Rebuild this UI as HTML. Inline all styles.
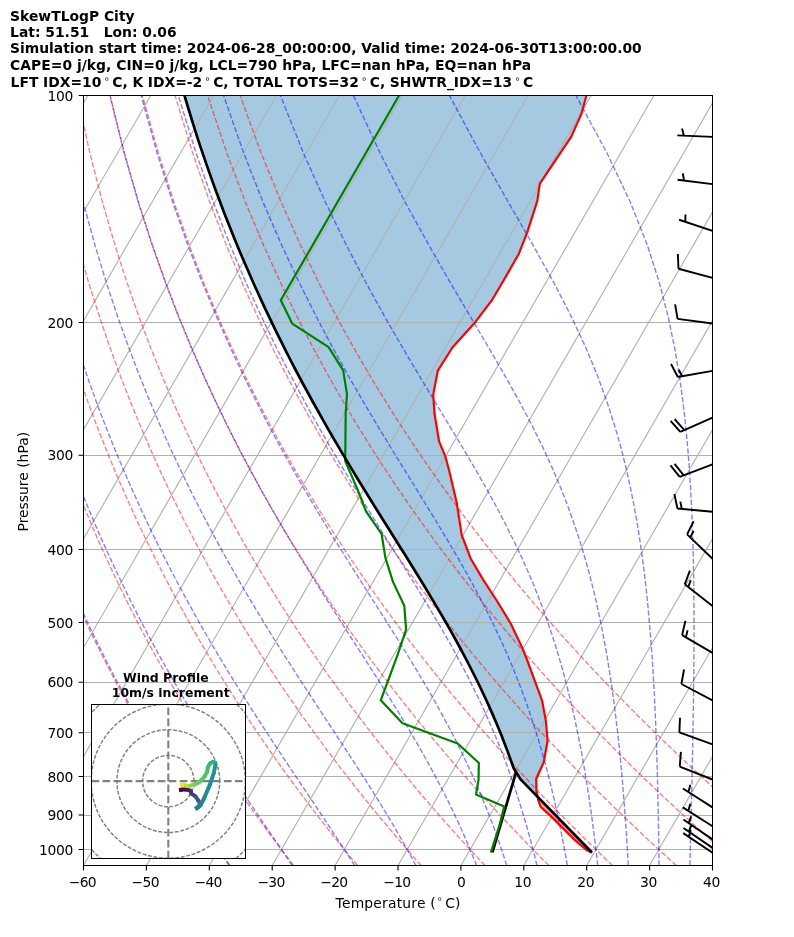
<!DOCTYPE html>
<html><head><meta charset="utf-8"><title>SkewTLogP City</title>
<style>html,body{margin:0;padding:0;background:#fff}svg{display:block}</style></head>
<body>
<svg width="794" height="937" viewBox="0 0 794 937">
<rect width="794" height="937" fill="#fff"/>
<defs><clipPath id="ax"><rect x="83.5" y="95.5" width="629.0" height="770.0"/></clipPath>
<clipPath id="hd"><rect x="91.5" y="704.5" width="154" height="154"/></clipPath></defs>
<g clip-path="url(#ax)" fill="none">
<path d="M536.4 795.4 L520.6 779.4 L516.1 772.2 L513.7 768.2 L510.6 759.6 L507.5 751.1 L504.2 742.6 L500.9 734.1 L497.4 725.6 L493.8 717.1 L490.1 708.6 L486.2 700.0 L482.2 691.5 L478.2 683.0 L473.9 674.5 L469.6 666.0 L465.2 657.5 L460.7 649.0 L456.0 640.4 L451.3 631.9 L446.4 623.4 L441.5 614.9 L436.5 606.4 L431.4 597.9 L426.3 589.4 L421.1 580.8 L415.8 572.3 L410.6 563.8 L405.3 555.3 L399.9 546.8 L394.6 538.3 L389.3 529.7 L383.9 521.2 L378.6 512.7 L373.3 504.2 L368.1 495.7 L362.8 487.2 L357.6 478.7 L352.4 470.1 L347.3 461.6 L342.2 453.1 L337.2 444.6 L332.2 436.1 L327.3 427.6 L322.5 419.1 L317.7 410.5 L312.9 402.0 L308.3 393.5 L303.6 385.0 L299.1 376.5 L294.6 368.0 L290.2 359.5 L285.8 350.9 L281.6 342.4 L277.3 333.9 L273.2 325.4 L269.1 316.9 L265.0 308.4 L261.1 299.9 L257.2 291.3 L253.3 282.8 L249.6 274.3 L245.9 265.8 L242.2 257.3 L238.6 248.8 L235.1 240.2 L231.7 231.7 L228.3 223.2 L224.9 214.7 L221.7 206.2 L218.5 197.7 L215.3 189.2 L212.2 180.6 L209.2 172.1 L206.2 163.6 L203.3 155.1 L200.4 146.6 L197.6 138.1 L194.9 129.6 L192.2 121.0 L189.6 112.5 L187.0 104.0 L184.5 95.5 L586.4 95.5 L581.4 113.9 L571.3 136.6 L539.8 183.7 L537.3 200.8 L527.2 232.3 L518.9 253.7 L503.8 280.0 L491.9 300.2 L474.3 323.3 L452.4 347.5 L437.8 370.7 L433.2 394.6 L434.5 413.5 L439.0 441.2 L445.3 456.3 L449.5 472.0 L456.7 502.7 L461.7 535.0 L470.5 558.2 L483.1 579.6 L497.0 601.0 L510.8 623.7 L522.2 647.6 L527.5 661.0 L534.5 680.2 L542.0 700.3 L545.8 720.5 L547.6 740.6 L543.8 762.0 L536.2 778.8 L536.4 790.5 Z" fill="#1f77b4" fill-opacity="0.4" stroke="none"/>
<path d="M536.4 795.4 L538.4 800.6 L540.7 806.9 L550.3 815.6 L559.1 824.4 L574.1 839.4 L586.4 850.0 L591.7 852.6 L592.0 852.5 Z" fill="#d62728" fill-opacity="0.4" stroke="none"/>
<path d="M-419.7 865.5 L24.9 95.5 M-356.8 865.5 L87.8 95.5 M-293.9 865.5 L150.7 95.5 M-231.0 865.5 L213.6 95.5 M-168.1 865.5 L276.5 95.5 M-105.2 865.5 L339.4 95.5 M-42.3 865.5 L402.3 95.5 M20.6 865.5 L465.2 95.5 M83.5 865.5 L528.1 95.5 M146.4 865.5 L591.0 95.5 M209.3 865.5 L653.9 95.5 M272.2 865.5 L716.8 95.5 M335.1 865.5 L779.7 95.5 M398.0 865.5 L842.6 95.5 M460.9 865.5 L905.5 95.5 M523.8 865.5 L968.4 95.5 M586.7 865.5 L1031.3 95.5 M649.6 865.5 L1094.2 95.5 M712.5 865.5 L1157.1 95.5" stroke="#b0b0b0" stroke-width="1.11"/>
<path d="M83.5 95.5 H712.5 M83.5 322.5 H712.5 M83.5 455.5 H712.5 M83.5 549.5 H712.5 M83.5 622.5 H712.5 M83.5 682.5 H712.5 M83.5 732.5 H712.5 M83.5 776.5 H712.5 M83.5 815.5 H712.5 M83.5 849.5 H712.5" stroke="#b0b0b0" stroke-width="1"/>
<path d="M229.9 865.5 L225.5 859.4 L221.1 853.2 L216.6 846.8 L212.1 840.4 L207.6 833.8 L203.0 827.0 L198.4 820.2 L193.7 813.2 L189.0 806.0 L184.2 798.7 L179.4 791.2 L174.5 783.5 L169.6 775.6 L164.6 767.6 L159.6 759.3 L154.5 750.8 L149.4 742.1 L144.1 733.2 L138.9 724.0 L133.5 714.6 L128.1 704.8 L122.7 694.8 L117.1 684.5 L111.5 673.8 L105.8 662.7 L100.1 651.3 L94.2 639.5 L88.3 627.2 L82.3 614.4 L76.2 601.1 L70.0 587.3 L63.7 572.8 L57.4 557.7 L50.9 541.9 L44.3 525.2 L37.7 507.6 L30.9 489.1 L24.1 469.4 L17.1 448.5 L10.0 426.2 L2.9 402.2 L-4.3 376.3 L-11.6 348.2 L-18.9 317.4 L-26.2 283.5 L-33.4 245.6 L-40.5 202.8 L-47.1 153.5 L-53.1 95.5 M293.7 865.5 L289.0 859.4 L284.2 853.2 L279.4 846.8 L274.5 840.4 L269.6 833.8 L264.7 827.0 L259.7 820.2 L254.7 813.2 L249.6 806.0 L244.4 798.7 L239.2 791.2 L233.9 783.5 L228.6 775.6 L223.2 767.6 L217.7 759.3 L212.2 750.8 L206.6 742.1 L201.0 733.2 L195.3 724.0 L189.5 714.6 L183.6 704.8 L177.6 694.8 L171.6 684.5 L165.5 673.8 L159.3 662.7 L153.0 651.3 L146.6 639.5 L140.1 627.2 L133.5 614.4 L126.8 601.1 L120.0 587.3 L113.1 572.8 L106.1 557.7 L99.0 541.9 L91.7 525.2 L84.4 507.6 L76.8 489.1 L69.2 469.4 L61.4 448.5 L53.5 426.2 L45.5 402.2 L37.3 376.3 L29.0 348.2 L20.6 317.4 L12.2 283.5 L3.7 245.6 L-4.7 202.8 L-12.9 153.5 L-20.5 95.5 M357.5 865.5 L352.4 859.4 L347.3 853.2 L342.1 846.8 L336.9 840.4 L331.7 833.8 L326.4 827.0 L321.0 820.2 L315.6 813.2 L310.1 806.0 L304.6 798.7 L299.0 791.2 L293.3 783.5 L287.6 775.6 L281.8 767.6 L275.9 759.3 L269.9 750.8 L263.9 742.1 L257.8 733.2 L251.6 724.0 L245.4 714.6 L239.0 704.8 L232.6 694.8 L226.1 684.5 L219.4 673.8 L212.7 662.7 L205.9 651.3 L199.0 639.5 L191.9 627.2 L184.8 614.4 L177.5 601.1 L170.1 587.3 L162.6 572.8 L154.9 557.7 L147.1 541.9 L139.1 525.2 L131.0 507.6 L122.8 489.1 L114.3 469.4 L105.8 448.5 L97.0 426.2 L88.0 402.2 L78.9 376.3 L69.6 348.2 L60.2 317.4 L50.5 283.5 L40.8 245.6 L31.1 202.8 L21.4 153.5 L12.1 95.5 M421.2 865.5 L415.8 859.4 L410.4 853.2 L404.9 846.8 L399.3 840.4 L393.7 833.8 L388.1 827.0 L382.3 820.2 L376.5 813.2 L370.7 806.0 L364.7 798.7 L358.7 791.2 L352.7 783.5 L346.5 775.6 L340.3 767.6 L334.0 759.3 L327.6 750.8 L321.2 742.1 L314.6 733.2 L308.0 724.0 L301.3 714.6 L294.5 704.8 L287.5 694.8 L280.5 684.5 L273.4 673.8 L266.2 662.7 L258.8 651.3 L251.3 639.5 L243.7 627.2 L236.0 614.4 L228.1 601.1 L220.1 587.3 L212.0 572.8 L203.7 557.7 L195.2 541.9 L186.5 525.2 L177.7 507.6 L168.7 489.1 L159.5 469.4 L150.1 448.5 L140.5 426.2 L130.6 402.2 L120.5 376.3 L110.2 348.2 L99.7 317.4 L88.9 283.5 L78.0 245.6 L66.8 202.8 L55.7 153.5 L44.7 95.5 M485.0 865.5 L479.3 859.4 L473.5 853.2 L467.7 846.8 L461.7 840.4 L455.8 833.8 L449.7 827.0 L443.6 820.2 L437.5 813.2 L431.2 806.0 L424.9 798.7 L418.5 791.2 L412.0 783.5 L405.5 775.6 L398.9 767.6 L392.2 759.3 L385.4 750.8 L378.5 742.1 L371.5 733.2 L364.4 724.0 L357.2 714.6 L349.9 704.8 L342.5 694.8 L335.0 684.5 L327.3 673.8 L319.6 662.7 L311.7 651.3 L303.7 639.5 L295.5 627.2 L287.2 614.4 L278.8 601.1 L270.2 587.3 L261.4 572.8 L252.4 557.7 L243.3 541.9 L233.9 525.2 L224.4 507.6 L214.6 489.1 L204.6 469.4 L194.4 448.5 L183.9 426.2 L173.2 402.2 L162.2 376.3 L150.8 348.2 L139.2 317.4 L127.3 283.5 L115.1 245.6 L102.6 202.8 L90.0 153.5 L77.2 95.5 M548.8 865.5 L542.7 859.4 L536.6 853.2 L530.4 846.8 L524.1 840.4 L517.8 833.8 L511.4 827.0 L504.9 820.2 L498.4 813.2 L491.8 806.0 L485.1 798.7 L478.3 791.2 L471.4 783.5 L464.5 775.6 L457.4 767.6 L450.3 759.3 L443.1 750.8 L435.7 742.1 L428.3 733.2 L420.8 724.0 L413.1 714.6 L405.3 704.8 L397.5 694.8 L389.4 684.5 L381.3 673.8 L373.0 662.7 L364.6 651.3 L356.1 639.5 L347.3 627.2 L338.5 614.4 L329.4 601.1 L320.2 587.3 L310.8 572.8 L301.2 557.7 L291.4 541.9 L281.3 525.2 L271.1 507.6 L260.6 489.1 L249.8 469.4 L238.7 448.5 L227.4 426.2 L215.8 402.2 L203.8 376.3 L191.5 348.2 L178.8 317.4 L165.7 283.5 L152.2 245.6 L138.4 202.8 L124.2 153.5 L109.8 95.5 M612.6 865.5 L606.2 859.4 L599.7 853.2 L593.2 846.8 L586.5 840.4 L579.9 833.8 L573.1 827.0 L566.3 820.2 L559.3 813.2 L552.3 806.0 L545.2 798.7 L538.1 791.2 L530.8 783.5 L523.4 775.6 L516.0 767.6 L508.4 759.3 L500.8 750.8 L493.0 742.1 L485.1 733.2 L477.1 724.0 L469.0 714.6 L460.8 704.8 L452.4 694.8 L443.9 684.5 L435.3 673.8 L426.5 662.7 L417.5 651.3 L408.4 639.5 L399.1 627.2 L389.7 614.4 L380.1 601.1 L370.2 587.3 L360.2 572.8 L349.9 557.7 L339.5 541.9 L328.7 525.2 L317.7 507.6 L306.5 489.1 L294.9 469.4 L283.1 448.5 L270.9 426.2 L258.3 402.2 L245.4 376.3 L232.1 348.2 L218.3 317.4 L204.1 283.5 L189.4 245.6 L174.2 202.8 L158.5 153.5 L142.4 95.5 M676.4 865.5 L669.6 859.4 L662.8 853.2 L655.9 846.8 L648.9 840.4 L641.9 833.8 L634.8 827.0 L627.6 820.2 L620.3 813.2 L612.9 806.0 L605.4 798.7 L597.8 791.2 L590.2 783.5 L582.4 775.6 L574.5 767.6 L566.6 759.3 L558.5 750.8 L550.3 742.1 L542.0 733.2 L533.5 724.0 L524.9 714.6 L516.2 704.8 L507.4 694.8 L498.4 684.5 L489.2 673.8 L479.9 662.7 L470.4 651.3 L460.8 639.5 L451.0 627.2 L440.9 614.4 L430.7 601.1 L420.3 587.3 L409.6 572.8 L398.7 557.7 L387.5 541.9 L376.1 525.2 L364.4 507.6 L352.4 489.1 L340.1 469.4 L327.4 448.5 L314.4 426.2 L300.9 402.2 L287.0 376.3 L272.7 348.2 L257.9 317.4 L242.5 283.5 L226.5 245.6 L210.0 202.8 L192.8 153.5 L175.0 95.5 M740.2 865.5 L733.1 859.4 L725.9 853.2 L718.7 846.8 L711.3 840.4 L703.9 833.8 L696.5 827.0 L688.9 820.2 L681.2 813.2 L673.4 806.0 L665.6 798.7 L657.6 791.2 L649.6 783.5 L641.4 775.6 L633.1 767.6 L624.7 759.3 L616.2 750.8 L607.6 742.1 L598.8 733.2 L589.9 724.0 L580.8 714.6 L571.7 704.8 L562.3 694.8 L552.8 684.5 L543.2 673.8 L533.4 662.7 L523.4 651.3 L513.2 639.5 L502.8 627.2 L492.2 614.4 L481.3 601.1 L470.3 587.3 L459.0 572.8 L447.5 557.7 L435.6 541.9 L423.5 525.2 L411.1 507.6 L398.3 489.1 L385.2 469.4 L371.7 448.5 L357.8 426.2 L343.5 402.2 L328.7 376.3 L313.3 348.2 L297.4 317.4 L280.9 283.5 L263.7 245.6 L245.7 202.8 L227.0 153.5 L207.6 95.5 M803.9 865.5 L796.5 859.4 L789.0 853.2 L781.4 846.8 L773.7 840.4 L766.0 833.8 L758.1 827.0 L750.2 820.2 L742.1 813.2 L734.0 806.0 L725.8 798.7 L717.4 791.2 L708.9 783.5 L700.4 775.6 L691.7 767.6 L682.8 759.3 L673.9 750.8 L664.8 742.1 L655.6 733.2 L646.3 724.0 L636.8 714.6 L627.1 704.8 L617.3 694.8 L607.3 684.5 L597.1 673.8 L586.8 662.7 L576.3 651.3 L565.5 639.5 L554.6 627.2 L543.4 614.4 L532.0 601.1 L520.3 587.3 L508.4 572.8 L496.2 557.7 L483.7 541.9 L470.9 525.2 L457.8 507.6 L444.3 489.1 L430.4 469.4 L416.1 448.5 L401.3 426.2 L386.1 402.2 L370.3 376.3 L353.9 348.2 L336.9 317.4 L319.2 283.5 L300.8 245.6 L281.5 202.8 L261.3 153.5 L240.1 95.5" stroke="#ff0000" stroke-width="1.39" stroke-dasharray="5.14 2.22" stroke-opacity="0.5"/>
<path d="M229.3 865.5 L225.2 859.4 L221.0 853.2 L216.7 846.8 L212.4 840.4 L208.0 833.8 L203.6 827.0 L199.1 820.2 L194.6 813.2 L189.9 806.0 L185.3 798.7 L180.5 791.2 L175.7 783.5 L170.9 775.6 L165.9 767.6 L161.0 759.3 L155.9 750.8 L150.8 742.1 L145.6 733.2 L140.4 724.0 L135.0 714.6 L129.6 704.8 L124.2 694.8 L118.6 684.5 L113.0 673.8 L107.3 662.7 L101.6 651.3 L95.7 639.5 L89.8 627.2 L83.8 614.4 L77.6 601.1 L71.4 587.3 L65.2 572.8 L58.8 557.7 L52.3 541.9 L45.7 525.2 L39.0 507.6 L32.2 489.1 L25.4 469.4 L18.4 448.5 L11.3 426.2 L4.1 402.2 L-3.1 376.3 L-10.4 348.2 L-17.8 317.4 L-25.1 283.5 L-32.4 245.6 L-39.4 202.8 L-46.1 153.5 L-52.1 95.5 M292.3 865.5 L288.1 859.4 L283.9 853.2 L279.6 846.8 L275.2 840.4 L270.7 833.8 L266.1 827.0 L261.5 820.2 L256.8 813.2 L252.0 806.0 L247.1 798.7 L242.1 791.2 L237.0 783.5 L231.9 775.6 L226.6 767.6 L221.3 759.3 L215.9 750.8 L210.4 742.1 L204.9 733.2 L199.2 724.0 L193.5 714.6 L187.6 704.8 L181.7 694.8 L175.7 684.5 L169.6 673.8 L163.3 662.7 L157.0 651.3 L150.6 639.5 L144.1 627.2 L137.5 614.4 L130.8 601.1 L124.0 587.3 L117.0 572.8 L110.0 557.7 L102.8 541.9 L95.5 525.2 L88.0 507.6 L80.5 489.1 L72.8 469.4 L64.9 448.5 L56.9 426.2 L48.8 402.2 L40.6 376.3 L32.2 348.2 L23.7 317.4 L15.2 283.5 L6.6 245.6 L-1.9 202.8 L-10.2 153.5 L-17.9 95.5 M354.6 865.5 L350.7 859.4 L346.7 853.2 L342.6 846.8 L338.4 840.4 L334.0 833.8 L329.6 827.0 L325.1 820.2 L320.4 813.2 L315.6 806.0 L310.7 798.7 L305.7 791.2 L300.5 783.5 L295.3 775.6 L289.9 767.6 L284.4 759.3 L278.8 750.8 L273.0 742.1 L267.2 733.2 L261.2 724.0 L255.1 714.6 L248.9 704.8 L242.6 694.8 L236.1 684.5 L229.5 673.8 L222.8 662.7 L216.0 651.3 L209.0 639.5 L201.9 627.2 L194.7 614.4 L187.4 601.1 L179.9 587.3 L172.3 572.8 L164.5 557.7 L156.6 541.9 L148.5 525.2 L140.3 507.6 L131.9 489.1 L123.3 469.4 L114.5 448.5 L105.6 426.2 L96.5 402.2 L87.2 376.3 L77.7 348.2 L68.0 317.4 L58.1 283.5 L48.2 245.6 L38.2 202.8 L28.2 153.5 L18.5 95.5 M415.9 865.5 L412.7 859.4 L409.3 853.2 L405.7 846.8 L402.1 840.4 L398.3 833.8 L394.4 827.0 L390.3 820.2 L386.1 813.2 L381.7 806.0 L377.2 798.7 L372.5 791.2 L367.7 783.5 L362.7 775.6 L357.5 767.6 L352.1 759.3 L346.6 750.8 L340.9 742.1 L335.1 733.2 L329.0 724.0 L322.8 714.6 L316.4 704.8 L309.9 694.8 L303.1 684.5 L296.2 673.8 L289.1 662.7 L281.8 651.3 L274.4 639.5 L266.8 627.2 L259.0 614.4 L251.0 601.1 L242.8 587.3 L234.5 572.8 L225.9 557.7 L217.2 541.9 L208.3 525.2 L199.2 507.6 L189.8 489.1 L180.3 469.4 L170.5 448.5 L160.5 426.2 L150.2 402.2 L139.7 376.3 L129.0 348.2 L117.9 317.4 L106.6 283.5 L95.1 245.6 L83.3 202.8 L71.5 153.5 L59.7 95.5 M476.6 865.5 L474.2 859.4 L471.6 853.2 L469.0 846.8 L466.2 840.4 L463.4 833.8 L460.4 827.0 L457.2 820.2 L453.9 813.2 L450.5 806.0 L446.9 798.7 L443.1 791.2 L439.1 783.5 L435.0 775.6 L430.6 767.6 L426.1 759.3 L421.3 750.8 L416.3 742.1 L411.1 733.2 L405.6 724.0 L399.9 714.6 L393.9 704.8 L387.6 694.8 L381.1 684.5 L374.3 673.8 L367.2 662.7 L359.9 651.3 L352.3 639.5 L344.4 627.2 L336.2 614.4 L327.7 601.1 L319.0 587.3 L309.9 572.8 L300.7 557.7 L291.1 541.9 L281.2 525.2 L271.1 507.6 L260.7 489.1 L250.0 469.4 L239.0 448.5 L227.7 426.2 L216.1 402.2 L204.1 376.3 L191.8 348.2 L179.1 317.4 L166.0 283.5 L152.6 245.6 L138.7 202.8 L124.5 153.5 L110.1 95.5 M506.8 865.5 L504.8 859.4 L502.8 853.2 L500.7 846.8 L498.4 840.4 L496.1 833.8 L493.6 827.0 L491.1 820.2 L488.4 813.2 L485.5 806.0 L482.5 798.7 L479.4 791.2 L476.1 783.5 L472.6 775.6 L468.9 767.6 L465.0 759.3 L460.9 750.8 L456.6 742.1 L452.1 733.2 L447.2 724.0 L442.1 714.6 L436.8 704.8 L431.1 694.8 L425.1 684.5 L418.8 673.8 L412.1 662.7 L405.1 651.3 L397.7 639.5 L390.0 627.2 L381.9 614.4 L373.5 601.1 L364.7 587.3 L355.5 572.8 L346.0 557.7 L336.1 541.9 L325.8 525.2 L315.2 507.6 L304.2 489.1 L292.9 469.4 L281.2 448.5 L269.1 426.2 L256.7 402.2 L243.8 376.3 L230.6 348.2 L216.9 317.4 L202.7 283.5 L188.0 245.6 L172.9 202.8 L157.2 153.5 L141.2 95.5 M537.0 865.5 L535.5 859.4 L534.0 853.2 L532.3 846.8 L530.6 840.4 L528.8 833.8 L526.9 827.0 L524.9 820.2 L522.8 813.2 L520.6 806.0 L518.3 798.7 L515.9 791.2 L513.3 783.5 L510.6 775.6 L507.7 767.6 L504.6 759.3 L501.3 750.8 L497.9 742.1 L494.2 733.2 L490.2 724.0 L486.0 714.6 L481.6 704.8 L476.8 694.8 L471.7 684.5 L466.3 673.8 L460.5 662.7 L454.3 651.3 L447.7 639.5 L440.6 627.2 L433.1 614.4 L425.2 601.1 L416.7 587.3 L407.7 572.8 L398.3 557.7 L388.3 541.9 L377.9 525.2 L367.0 507.6 L355.5 489.1 L343.6 469.4 L331.2 448.5 L318.3 426.2 L305.0 402.2 L291.1 376.3 L276.7 348.2 L261.8 317.4 L246.3 283.5 L230.3 245.6 L213.6 202.8 L196.2 153.5 L178.3 95.5 M567.3 865.5 L566.3 859.4 L565.1 853.2 L564.0 846.8 L562.8 840.4 L561.5 833.8 L560.1 827.0 L558.7 820.2 L557.2 813.2 L555.6 806.0 L554.0 798.7 L552.2 791.2 L550.3 783.5 L548.4 775.6 L546.3 767.6 L544.0 759.3 L541.6 750.8 L539.1 742.1 L536.4 733.2 L533.5 724.0 L530.3 714.6 L527.0 704.8 L523.4 694.8 L519.5 684.5 L515.3 673.8 L510.8 662.7 L505.9 651.3 L500.5 639.5 L494.8 627.2 L488.5 614.4 L481.7 601.1 L474.4 587.3 L466.4 572.8 L457.8 557.7 L448.5 541.9 L438.5 525.2 L427.8 507.6 L416.4 489.1 L404.2 469.4 L391.4 448.5 L377.8 426.2 L363.6 402.2 L348.6 376.3 L333.0 348.2 L316.7 317.4 L299.7 283.5 L281.9 245.6 L263.3 202.8 L243.9 153.5 L223.6 95.5 M597.7 865.5 L597.1 859.4 L596.4 853.2 L595.6 846.8 L594.8 840.4 L594.0 833.8 L593.1 827.0 L592.2 820.2 L591.3 813.2 L590.2 806.0 L589.2 798.7 L588.0 791.2 L586.8 783.5 L585.5 775.6 L584.2 767.6 L582.7 759.3 L581.2 750.8 L579.5 742.1 L577.7 733.2 L575.8 724.0 L573.8 714.6 L571.5 704.8 L569.1 694.8 L566.5 684.5 L563.7 673.8 L560.6 662.7 L557.2 651.3 L553.5 639.5 L549.5 627.2 L545.0 614.4 L540.0 601.1 L534.6 587.3 L528.5 572.8 L521.8 557.7 L514.3 541.9 L506.0 525.2 L496.9 507.6 L486.7 489.1 L475.5 469.4 L463.2 448.5 L449.7 426.2 L435.2 402.2 L419.6 376.3 L402.9 348.2 L385.1 317.4 L366.4 283.5 L346.6 245.6 L325.7 202.8 L303.6 153.5 L280.4 95.5 M628.3 865.5 L628.0 859.4 L627.6 853.2 L627.2 846.8 L626.8 840.4 L626.4 833.8 L625.9 827.0 L625.4 820.2 L624.9 813.2 L624.4 806.0 L623.8 798.7 L623.2 791.2 L622.6 783.5 L621.9 775.6 L621.2 767.6 L620.4 759.3 L619.6 750.8 L618.7 742.1 L617.7 733.2 L616.6 724.0 L615.5 714.6 L614.3 704.8 L612.9 694.8 L611.5 684.5 L609.9 673.8 L608.1 662.7 L606.2 651.3 L604.0 639.5 L601.7 627.2 L599.0 614.4 L596.1 601.1 L592.8 587.3 L589.1 572.8 L584.9 557.7 L580.1 541.9 L574.6 525.2 L568.4 507.6 L561.2 489.1 L552.9 469.4 L543.4 448.5 L532.4 426.2 L519.7 402.2 L505.3 376.3 L489.0 348.2 L470.9 317.4 L450.8 283.5 L429.1 245.6 L405.5 202.8 L380.3 153.5 L353.4 95.5 M659.0 865.5 L659.0 859.4 L658.9 853.2 L658.8 846.8 L658.7 840.4 L658.6 833.8 L658.5 827.0 L658.4 820.2 L658.2 813.2 L658.1 806.0 L657.9 798.7 L657.8 791.2 L657.6 783.5 L657.4 775.6 L657.2 767.6 L656.9 759.3 L656.7 750.8 L656.4 742.1 L656.0 733.2 L655.7 724.0 L655.3 714.6 L654.8 704.8 L654.4 694.8 L653.8 684.5 L653.2 673.8 L652.5 662.7 L651.7 651.3 L650.8 639.5 L649.8 627.2 L648.7 614.4 L647.4 601.1 L646.0 587.3 L644.3 572.8 L642.4 557.7 L640.1 541.9 L637.5 525.2 L634.4 507.6 L630.7 489.1 L626.4 469.4 L621.2 448.5 L614.8 426.2 L607.1 402.2 L597.7 376.3 L586.1 348.2 L571.7 317.4 L554.3 283.5 L533.3 245.6 L508.7 202.8 L480.7 153.5 L449.4 95.5 M689.9 865.5 L690.0 859.4 L690.2 853.2 L690.3 846.8 L690.5 840.4 L690.7 833.8 L690.8 827.0 L691.0 820.2 L691.2 813.2 L691.3 806.0 L691.5 798.7 L691.7 791.2 L691.9 783.5 L692.0 775.6 L692.2 767.6 L692.4 759.3 L692.6 750.8 L692.7 742.1 L692.9 733.2 L693.1 724.0 L693.2 714.6 L693.4 704.8 L693.5 694.8 L693.6 684.5 L693.8 673.8 L693.9 662.7 L693.9 651.3 L694.0 639.5 L694.0 627.2 L694.0 614.4 L693.9 601.1 L693.8 587.3 L693.6 572.8 L693.3 557.7 L692.8 541.9 L692.3 525.2 L691.6 507.6 L690.6 489.1 L689.4 469.4 L687.8 448.5 L685.7 426.2 L683.0 402.2 L679.5 376.3 L674.7 348.2 L668.3 317.4 L659.6 283.5 L647.5 245.6 L630.6 202.8 L607.2 153.5 L576.0 95.5 M720.9 865.5 L721.2 859.4 L721.5 853.2 L721.9 846.8 L722.2 840.4 L722.6 833.8 L723.0 827.0 L723.4 820.2 L723.8 813.2 L724.2 806.0 L724.6 798.7 L725.0 791.2 L725.5 783.5 L725.9 775.6 L726.4 767.6 L726.9 759.3 L727.4 750.8 L727.9 742.1 L728.4 733.2 L729.0 724.0 L729.6 714.6 L730.1 704.8 L730.7 694.8 L731.4 684.5 L732.0 673.8 L732.7 662.7 L733.3 651.3 L734.0 639.5 L734.7 627.2 L735.5 614.4 L736.2 601.1 L737.0 587.3 L737.8 572.8 L738.6 557.7 L739.4 541.9 L740.2 525.2 L741.0 507.6 L741.8 489.1 L742.5 469.4 L743.2 448.5 L743.8 426.2 L744.3 402.2 L744.6 376.3 L744.6 348.2 L744.2 317.4 L743.0 283.5 L740.7 245.6 L736.4 202.8 L728.8 153.5 L715.1 95.5" stroke="#0000ff" stroke-width="1.39" stroke-dasharray="5.14 2.22" stroke-opacity="0.5"/>
<path d="M516.1 772.2 L492.4 852.3" stroke="#000" stroke-width="2.7"/>
<path d="M586.4 95.5 L581.4 113.9 L571.3 136.6 L539.8 183.7 L537.3 200.8 L527.2 232.3 L518.9 253.7 L503.8 280.0 L491.9 300.2 L474.3 323.3 L452.4 347.5 L437.8 370.7 L433.2 394.6 L434.5 413.5 L439.0 441.2 L445.3 456.3 L449.5 472.0 L456.7 502.7 L461.7 535.0 L470.5 558.2 L483.1 579.6 L497.0 601.0 L510.8 623.7 L522.2 647.6 L527.5 661.0 L534.5 680.2 L542.0 700.3 L545.8 720.5 L547.6 740.6 L543.8 762.0 L536.2 778.8 L536.4 790.5 L538.4 800.6 L540.7 806.9 L550.3 815.6 L559.1 824.4 L574.1 839.4 L586.4 850.0 L591.7 852.6" stroke="#ff0000" stroke-width="2.2" stroke-linejoin="round"/>
<path d="M399.2 95.3 L280.8 300.3 L292.2 323.6 L328.6 347.2 L343.2 370.4 L347.0 394.3 L345.7 413.2 L345.2 461.0 L358.3 491.3 L366.0 511.3 L381.6 534.0 L385.4 557.9 L393.0 581.9 L404.3 605.8 L406.1 629.7 L398.0 653.7 L389.2 677.6 L380.8 700.2 L402.5 723.3 L457.7 743.5 L478.9 763.0 L478.5 780.0 L476.0 794.5 L504.2 806.6 L499.2 826.2 L490.8 852.7" stroke="#008000" stroke-width="2.2" stroke-linejoin="round"/>
<path d="M592.0 852.5 L520.6 779.4 L516.1 772.2 L513.7 768.2 L510.6 759.6 L507.5 751.1 L504.2 742.6 L500.9 734.1 L497.4 725.6 L493.8 717.1 L490.1 708.6 L486.2 700.0 L482.2 691.5 L478.2 683.0 L473.9 674.5 L469.6 666.0 L465.2 657.5 L460.7 649.0 L456.0 640.4 L451.3 631.9 L446.4 623.4 L441.5 614.9 L436.5 606.4 L431.4 597.9 L426.3 589.4 L421.1 580.8 L415.8 572.3 L410.6 563.8 L405.3 555.3 L399.9 546.8 L394.6 538.3 L389.3 529.7 L383.9 521.2 L378.6 512.7 L373.3 504.2 L368.1 495.7 L362.8 487.2 L357.6 478.7 L352.4 470.1 L347.3 461.6 L342.2 453.1 L337.2 444.6 L332.2 436.1 L327.3 427.6 L322.5 419.1 L317.7 410.5 L312.9 402.0 L308.3 393.5 L303.6 385.0 L299.1 376.5 L294.6 368.0 L290.2 359.5 L285.8 350.9 L281.6 342.4 L277.3 333.9 L273.2 325.4 L269.1 316.9 L265.0 308.4 L261.1 299.9 L257.2 291.3 L253.3 282.8 L249.6 274.3 L245.9 265.8 L242.2 257.3 L238.6 248.8 L235.1 240.2 L231.7 231.7 L228.3 223.2 L224.9 214.7 L221.7 206.2 L218.5 197.7 L215.3 189.2 L212.2 180.6 L209.2 172.1 L206.2 163.6 L203.3 155.1 L200.4 146.6 L197.6 138.1 L194.9 129.6 L192.2 121.0 L189.6 112.5 L187.0 104.0 L184.5 95.5" stroke="#000" stroke-width="2.7" stroke-linejoin="round"/>
</g>
<path d="M712.50 136.90 L677.33 135.40 M683.93 135.68 L682.03 128.56 M712.50 184.10 L677.56 179.80 M684.11 180.60 L682.79 173.35 M712.50 230.80 L679.08 219.76 M685.34 221.83 L685.46 214.45 M712.50 277.80 L678.49 268.74 M678.49 268.74 L677.86 254.00 M712.50 323.50 L677.60 318.90 M677.60 318.90 L675.08 304.37 M712.50 370.90 L677.84 377.04 M677.84 377.04 L671.05 363.94 M682.17 376.27 L678.78 369.73 M712.50 417.60 L680.34 431.91 M680.34 431.91 L670.60 420.83 M684.36 430.12 L674.62 419.04 M712.50 464.30 L679.65 476.94 M679.65 476.94 L670.49 465.37 M683.75 475.36 L674.59 463.79 M712.50 511.70 L677.45 508.46 M677.45 508.46 L674.36 494.03 M681.83 508.86 L680.29 501.65 M712.50 558.80 L687.11 534.42 M687.11 534.42 L693.68 521.22 M690.28 537.47 L693.57 530.87 M712.50 606.00 L684.74 584.35 M684.74 584.35 L689.93 570.55 M688.21 587.06 L690.81 580.16 M712.50 652.90 L682.11 635.13 M682.11 635.13 L685.42 620.76 M685.91 637.35 L687.57 630.17 M712.50 700.40 L681.37 683.98 M681.37 683.98 L684.04 669.47 M712.50 744.40 L679.38 732.48 M679.38 732.48 L680.01 717.74 M712.50 779.50 L679.78 766.52 M679.78 766.52 L680.89 751.81 M712.50 807.40 L682.85 788.43 M688.41 791.99 L690.35 784.87 M712.50 826.20 L682.76 807.37 M688.33 810.90 L690.24 803.78 M712.50 839.40 L683.41 819.58 M688.86 823.30 L691.01 816.24 M712.50 847.90 L683.50 827.95 M688.94 831.69 L691.12 824.64 M712.50 852.70 L683.23 833.15 M688.72 836.82 L690.80 829.74" fill="none" stroke="#000" stroke-width="1.9" stroke-linejoin="miter" stroke-linecap="butt"/>
<rect x="83.5" y="95.5" width="629.0" height="770.0" fill="none" stroke="#000" stroke-width="1"/>
<path d="M83.5 95.5 h-4.9 M83.5 322.5 h-4.9 M83.5 455.3 h-4.9 M83.5 549.5 h-4.9 M83.5 622.5 h-4.9 M83.5 682.2 h-4.9 M83.5 732.7 h-4.9 M83.5 776.5 h-4.9 M83.5 815.0 h-4.9 M83.5 849.5 h-4.9 M83.5 865.5 v4.9 M146.4 865.5 v4.9 M209.3 865.5 v4.9 M272.2 865.5 v4.9 M335.1 865.5 v4.9 M398.0 865.5 v4.9 M460.9 865.5 v4.9 M523.8 865.5 v4.9 M586.7 865.5 v4.9 M649.6 865.5 v4.9 M712.5 865.5 v4.9" stroke="#000" stroke-width="1.1" fill="none"/>
<g font-family="'DejaVu Sans', 'Liberation Sans', sans-serif" font-size="13.89" fill="#000">
<text x="73.0" y="100.5" text-anchor="end" letter-spacing="-0.35">100</text>
<text x="73.0" y="327.5" text-anchor="end" letter-spacing="-0.35">200</text>
<text x="73.0" y="460.3" text-anchor="end" letter-spacing="-0.35">300</text>
<text x="73.0" y="554.5" text-anchor="end" letter-spacing="-0.35">400</text>
<text x="73.0" y="627.5" text-anchor="end" letter-spacing="-0.35">500</text>
<text x="73.0" y="687.2" text-anchor="end" letter-spacing="-0.35">600</text>
<text x="73.0" y="737.7" text-anchor="end" letter-spacing="-0.35">700</text>
<text x="73.0" y="781.5" text-anchor="end" letter-spacing="-0.35">800</text>
<text x="73.0" y="820.0" text-anchor="end" letter-spacing="-0.35">900</text>
<text x="73.0" y="854.5" text-anchor="end" letter-spacing="-0.35">1000</text>
<text x="82.3" y="886.7" text-anchor="middle" letter-spacing="-0.70">−60</text>
<text x="145.2" y="886.7" text-anchor="middle" letter-spacing="-0.70">−50</text>
<text x="208.1" y="886.7" text-anchor="middle" letter-spacing="-0.70">−40</text>
<text x="271.0" y="886.7" text-anchor="middle" letter-spacing="-0.70">−30</text>
<text x="333.9" y="886.7" text-anchor="middle" letter-spacing="-0.70">−20</text>
<text x="396.8" y="886.7" text-anchor="middle" letter-spacing="-0.70">−10</text>
<text x="461.2" y="886.7" text-anchor="middle" letter-spacing="-0.35">0</text>
<text x="522.8" y="886.7" text-anchor="middle" letter-spacing="-0.35">10</text>
<text x="585.7" y="886.7" text-anchor="middle" letter-spacing="-0.35">20</text>
<text x="648.6" y="886.7" text-anchor="middle" letter-spacing="-0.35">30</text>
<text x="711.5" y="886.7" text-anchor="middle" letter-spacing="-0.35">40</text>
<text x="335.6" y="907.6" letter-spacing="0.2">Temperature (</text><text x="436.7" y="902.3" font-size="9.7">∘</text><text x="445.2" y="907.6">C)</text>
<text transform="translate(28.3,481.7) rotate(-90)" text-anchor="middle">Pressure (hPa)</text>
</g>
<g font-family="'DejaVu Sans', 'Liberation Sans', sans-serif" font-weight="bold" font-size="13.89" fill="#000">
<text x="10.1" y="20.80" letter-spacing="0.0000" xml:space="preserve">SkewTLogP City</text>
<text x="10.1" y="36.90" letter-spacing="0.0000" xml:space="preserve">Lat: 51.51   Lon: 0.06</text>
<text x="10.1" y="52.90" letter-spacing="-0.0167" xml:space="preserve">Simulation start time: 2024-06-28_00:00:00, Valid time: 2024-06-30T13:00:00.00</text>
<text x="10.1" y="70.45" letter-spacing="0.0260" xml:space="preserve">CAPE=0 j/kg, CIN=0 j/kg, LCL=790 hPa, LFC=nan hPa, EQ=nan hPa</text>
<text x="10.6" y="87.30" letter-spacing="0.0000" word-spacing="-0.15" xml:space="preserve">LFT IDX=10<tspan font-size="9.7" font-weight="normal" dy="-5.1" dx="2.3">∘</tspan><tspan dy="5.1" dx="2.5">C</tspan>, K IDX=-2<tspan font-size="9.7" font-weight="normal" dy="-5.1" dx="2.3">∘</tspan><tspan dy="5.1" dx="2.5">C</tspan>, TOTAL TOTS=32<tspan font-size="9.7" font-weight="normal" dy="-5.1" dx="2.3">∘</tspan><tspan dy="5.1" dx="2.5">C</tspan>, SHWTR_IDX=13<tspan font-size="9.7" font-weight="normal" dy="-5.1" dx="2.3">∘</tspan><tspan dy="5.1" dx="2.5">C</tspan></text>
</g>
<rect x="91.5" y="704.5" width="154.0" height="154.0" fill="#fff"/>
<g clip-path="url(#hd)" fill="none">
<circle cx="0" cy="0" r="25.7" stroke="#808080" stroke-width="1.45" stroke-dasharray="3.85 1.67" transform="translate(168.3 781.1) scale(1 -1)"/>
<circle cx="0" cy="0" r="51.4" stroke="#808080" stroke-width="1.45" stroke-dasharray="3.85 1.67" transform="translate(168.3 781.1) scale(1 -1)"/>
<circle cx="0" cy="0" r="77.1" stroke="#808080" stroke-width="1.45" stroke-dasharray="3.85 1.67" transform="translate(168.3 781.1) scale(1 -1)"/>
<circle cx="0" cy="0" r="102.8" stroke="#808080" stroke-width="1.45" stroke-dasharray="3.85 1.67" transform="translate(168.3 781.1) scale(1 -1)"/>
<path d="M91.5 781.1 H245.5 M168.3 858.5 V704.5" stroke="#808080" stroke-width="2.08" stroke-dasharray="7.7 3.33"/>
<path d="M179.0 790.2 L182.7 789.5" stroke="#440557" stroke-width="4" stroke-linecap="butt"/>
<path d="M181.3 789.6 L185.7 789.4" stroke="#450c5e" stroke-width="4" stroke-linecap="butt"/>
<path d="M184.3 789.3 L188.7 789.9" stroke="#461364" stroke-width="4" stroke-linecap="butt"/>
<path d="M187.3 789.6 L191.3 790.8" stroke="#471b6c" stroke-width="4" stroke-linecap="butt"/>
<path d="M190.4 789.9 L191.6 794.5" stroke="#472b79" stroke-width="4" stroke-linecap="butt"/>
<path d="M190.8 793.4 L196.0 796.6" stroke="#413f83" stroke-width="4" stroke-linecap="butt"/>
<path d="M195.0 795.6 L199.0 801.6" stroke="#3b528a" stroke-width="4" stroke-linecap="butt"/>
<path d="M198.3 800.4 L200.5 804.6" stroke="#34608d" stroke-width="4" stroke-linecap="butt"/>
<path d="M200.6 803.4 L197.6 807.6" stroke="#2e6f8e" stroke-width="4" stroke-linecap="butt"/>
<path d="M198.6 806.6 L195.2 809.0" stroke="#297b8e" stroke-width="4" stroke-linecap="butt"/>
<path d="M195.2 808.9 L198.6 807.1" stroke="#27808e" stroke-width="4" stroke-linecap="butt"/>
<path d="M197.4 807.8 L201.2 805.0" stroke="#26828e" stroke-width="4" stroke-linecap="butt"/>
<path d="M200.3 806.0 L205.3 795.6" stroke="#25868d" stroke-width="4" stroke-linecap="butt"/>
<path d="M204.7 796.8 L210.1 784.4" stroke="#248b8c" stroke-width="4" stroke-linecap="butt"/>
<path d="M209.6 785.7 L214.0 772.3" stroke="#22908c" stroke-width="4" stroke-linecap="butt"/>
<path d="M213.7 773.7 L215.5 764.3" stroke="#21968a" stroke-width="4" stroke-linecap="butt"/>
<path d="M215.5 765.7 L214.9 761.7" stroke="#209f88" stroke-width="4" stroke-linecap="butt"/>
<path d="M215.6 762.7 L212.6 761.2" stroke="#28a883" stroke-width="4" stroke-linecap="butt"/>
<path d="M213.8 761.1 L209.4 763.8" stroke="#30b17d" stroke-width="4" stroke-linecap="butt"/>
<path d="M210.3 762.8 L207.5 768.0" stroke="#39b977" stroke-width="4" stroke-linecap="butt"/>
<path d="M207.9 766.7 L206.9 772.9" stroke="#46be6f" stroke-width="4" stroke-linecap="butt"/>
<path d="M207.4 771.6 L203.8 777.6" stroke="#50c26a" stroke-width="4" stroke-linecap="butt"/>
<path d="M204.7 776.5 L198.9 782.7" stroke="#5cc762" stroke-width="4" stroke-linecap="butt"/>
<path d="M200.0 781.9 L192.4 785.3" stroke="#6ecd58" stroke-width="4" stroke-linecap="butt"/>
<path d="M193.7 784.8 L187.5 786.4" stroke="#8ed544" stroke-width="4" stroke-linecap="butt"/>
<path d="M188.9 786.4 L182.7 784.8" stroke="#bfdf2b" stroke-width="4" stroke-linecap="butt"/>
<path d="M184.1 785.1 L179.8 784.6" stroke="#ede527" stroke-width="4" stroke-linecap="butt"/>
</g>
<rect x="91.5" y="704.5" width="154.0" height="154.0" fill="none" stroke="#000" stroke-width="1"/>
<g font-family="'DejaVu Sans', 'Liberation Sans', sans-serif" font-weight="bold" font-size="12.45" fill="#000" text-anchor="middle">
<text x="165.9" y="682">Wind Profile</text><text x="170.7" y="697">10m/s increment</text></g>
</svg>
</body></html>
